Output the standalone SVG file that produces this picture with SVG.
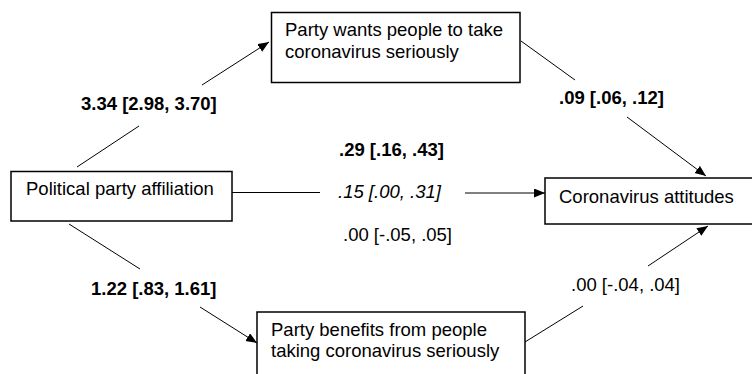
<svg xmlns="http://www.w3.org/2000/svg" width="752" height="374" viewBox="0 0 752 374">
<style>
.box{fill:#fff;stroke:#000;stroke-width:1.5}
.t{font-family:"Liberation Sans",Arial,sans-serif;font-size:18.5px;fill:#000}
.b{font-weight:bold}
.i{font-style:italic}
.c line{stroke:#000;stroke-width:1}
</style>
<defs>
<marker id="ah" markerUnits="userSpaceOnUse" markerWidth="12" markerHeight="10" refX="11" refY="4.5" orient="auto">
<path d="M0,0 L11,4.5 L0,9 z" fill="#000"/>
</marker>
</defs>
<rect width="752" height="374" fill="#fff"/>
<g id="connectors" class="c">
<line x1="77" y1="167" x2="139" y2="126"/>
<line x1="202" y1="85" x2="269" y2="42" marker-end="url(#ah)"/>
<line x1="521" y1="41" x2="575" y2="80"/>
<line x1="627" y1="117" x2="706" y2="176" marker-end="url(#ah)"/>
<line x1="232" y1="192.5" x2="320" y2="192.5"/>
<line x1="465" y1="193" x2="545" y2="193" marker-end="url(#ah)"/>
<line x1="69" y1="224" x2="140" y2="269"/>
<line x1="200" y1="307" x2="257" y2="343" marker-end="url(#ah)"/>
<line x1="525" y1="342" x2="583" y2="306"/>
<line x1="648" y1="266" x2="708" y2="226" marker-end="url(#ah)"/>
</g>
<g id="labels">
<text class="t b" x="81" y="110">3.34 [2.98, 3.70]</text>
<text class="t b" x="559" y="104">.09 [.06, .12]</text>
<text class="t b" x="339" y="156">.29 [.16, .43]</text>
<text class="t i" x="338" y="198">.15 [.00, .31]</text>
<text class="t" x="343" y="241">.00 [-.05, .05]</text>
<text class="t b" x="91" y="295">1.22 [.83, 1.61]</text>
<text class="t" x="571" y="291">.00 [-.04, .04]</text>
</g>
<g id="node-wants">
<rect class="box" x="271.5" y="12.5" width="248.5" height="70"/>
<text class="t" x="285" y="36">Party wants people to take</text>
<text class="t" x="285" y="58">coronavirus seriously</text>
</g>
<g id="node-affiliation">
<rect class="box" x="11" y="171.5" width="221" height="49.5"/>
<text class="t" x="26" y="195">Political party affiliation</text>
</g>
<g id="node-attitudes">
<rect class="box" x="545" y="178" width="215" height="46"/>
<text class="t" x="559" y="202.5">Coronavirus attitudes</text>
</g>
<g id="node-benefits">
<rect class="box" x="257" y="312" width="268" height="70"/>
<text class="t" x="271" y="336">Party benefits from people</text>
<text class="t" x="271" y="357">taking coronavirus seriously</text>
</g>
</svg>
